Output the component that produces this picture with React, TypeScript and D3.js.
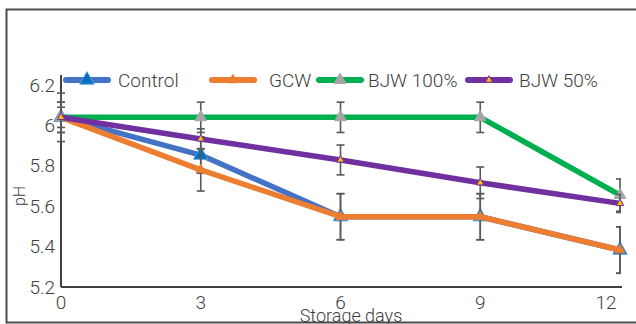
import React from "react";
import * as d3 from "d3";

const days = [0, 3, 6, 9, 12];
const seriesNames = ["Control", "GCW", "BJW 100%", "BJW 50%"];
const controlVals = [6.04, 5.853, 5.548, 5.548, 5.383];
const gcwVals = [6.04, 5.78, 5.548, 5.548, 5.383];
const bjw100Vals = [6.04, 6.04, 6.04, 6.04, 5.655];
const bjw50Vals = [6.04, 5.933, 5.829, 5.716, 5.614];
const controlErr = [0.12, 0.09, 0.114, 0.114, 0.115];
const gcwErr = [0.075, 0.105, 0.114, 0.114, 0.115];
const bjw100Err = [0.075, 0.075, 0.075, 0.075, 0.08];
const bjw50Err = [0.05, 0.05, 0.074, 0.078, 0.045];
const yTicks = [5.2, 5.4, 5.6, 5.8, 6, 6.2];
const xTickLabels = ["0", "3", "6", "9", "12"];

const styles = [
  { line: "#4472C4", marker: "#0070C0", mstroke: "#5B9BD5", size: 90 },
  { line: "#ED7D31", marker: "#ED7D31", mstroke: "#ED7D31", size: 40 },
  { line: "#00B050", marker: "#A5A5A5", mstroke: "#A5A5A5", size: 60 },
  { line: "#7030A0", marker: "#FFC000", mstroke: "#7030A0", size: 24 },
];
const legendX = [66, 212, 319, 468];

export default function App() {
  const W = 636, H = 324;
  const x = d3.scaleLinear().domain([0, 12]).range([61, 620]);
  const y = d3.scaleLinear().domain([5.2, 6.2]).range([287, 85]);
  const allVals = [controlVals, gcwVals, bjw100Vals, bjw50Vals];
  const allErr = [controlErr, gcwErr, bjw100Err, bjw50Err];
  const line = d3.line<number>().x((_, i) => x(days[i])).y((v) => y(v));
  const tri = (s: number) => d3.symbol().type(d3.symbolTriangle).size(s)()!;
  const font = "Roboto, 'Noto Sans', sans-serif";
  const textColor = "#404040";
  const fw = 300;
  return (
    <svg width={W} height={H} style={{ position: "absolute", left: 0, top: 0, background: "#fff" }}>
      <defs>
        <clipPath id="plotclip">
          <rect x={0} y={0} width={621} height={H} />
        </clipPath>
      </defs>
      <rect x={6.5} y={9.5} width={700} height={313} fill="none" stroke="#4d4d4d" strokeWidth={2} />
      {/* axes */}
      <line x1={61} x2={61} y1={75} y2={y(5.2)} stroke="#404040" strokeWidth={2} />
      <line x1={61} x2={622} y1={y(5.2)} y2={y(5.2)} stroke="#404040" strokeWidth={2} />
      {yTicks.map((t) => (
        <text key={t} x={55} y={y(t)} dy="0.35em" textAnchor="end" fontFamily={font} fontWeight={fw} fontSize={19} fill={textColor}>
          {d3.format("~g")(t)}
        </text>
      ))}
      {days.map((d, i) => (
        <text key={d} x={i === days.length - 1 ? x(d) - 14 : x(d)} y={302} dy="0.35em" textAnchor="middle" fontFamily={font} fontWeight={fw} fontSize={19} fill={textColor}>
          {xTickLabels[i]}
        </text>
      ))}
      <text x={351} y={316} dy="0.35em" textAnchor="middle" fontFamily={font} fontWeight={fw} fontSize={18} fill={textColor}>
        Storage days
      </text>
      <text transform={`translate(19,196) rotate(-90)`} dy="0.35em" textAnchor="middle" fontFamily={font} fontWeight={fw} fontSize={16} fill={textColor}>
        pH
      </text>
      {/* series */}
      {allVals.map((vals, si) => (
        <g key={si}>
          <path d={line(vals)!} fill="none" stroke={styles[si].line} strokeWidth={5.5} strokeLinejoin="round" strokeLinecap="round" />
          <g clipPath="url(#plotclip)">
            {vals.map((v, i) => {
              const e = allErr[si][i];
              const cx = x(days[i]);
              return (
                <g key={i} stroke="#595959" strokeWidth={1.6}>
                  <line x1={cx} x2={cx} y1={y(v + e)} y2={y(v - e)} />
                  <line x1={cx - 4} x2={cx + 4} y1={y(v + e)} y2={y(v + e)} />
                  <line x1={cx - 4} x2={cx + 4} y1={y(v - e)} y2={y(v - e)} />
                </g>
              );
            })}
          </g>
          {vals.map((v, i) => (
            <path key={i} d={tri(styles[si].size)} transform={`translate(${x(days[i])},${y(v)})`} fill={styles[si].marker} stroke={styles[si].mstroke} strokeWidth={1} />
          ))}
        </g>
      ))}
      {/* legend */}
      {seriesNames.map((n, si) => (
        <g key={n}>
          <line x1={legendX[si]} x2={legendX[si] + 42} y1={80} y2={80} stroke={styles[si].line} strokeWidth={6} strokeLinecap="round" />
          <path d={tri(styles[si].size)} transform={`translate(${legendX[si] + 21},${80})`} fill={styles[si].marker} stroke={styles[si].mstroke} strokeWidth={1} />
          <text x={legendX[si] + (si === 0 ? 52 : si === 1 ? 57 : si === 2 ? 49 : 51)} y={80} dy="0.35em" fontFamily={font} fontWeight={fw} fontSize={19} fill={textColor}>
            {n}
          </text>
        </g>
      ))}
    </svg>
  );
}
